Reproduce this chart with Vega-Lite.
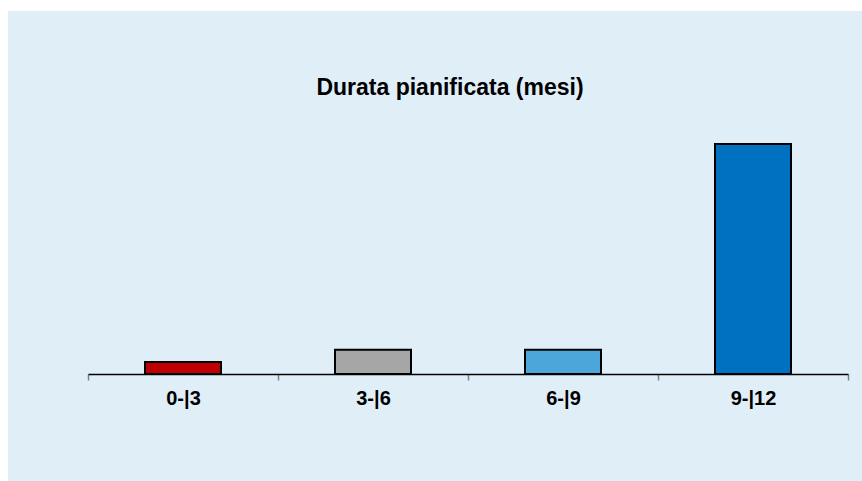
{
  "$schema": "https://vega.github.io/schema/vega-lite/v6.json",
  "autosize": {"type": "none"},
  "width": 854,
  "height": 470,
  "padding": {"left": 8, "top": 11, "right": 0, "bottom": 0},
  "background": "#ffffff",
  "config": {
    "view": {"fill": "#E0EEF8", "stroke": null},
    "font": "Liberation Sans"
  },
  "title": {
    "text": "Durata pianificata (mesi)",
    "font": "Liberation Sans",
    "fontSize": 23,
    "fontWeight": "bold",
    "color": "#000000",
    "anchor": "middle",
    "baseline": "alphabetic",
    "offset": -107,
    "dx": 15
  },
  "data": {
    "values": [
      {"durata": "0-|3", "progetti": 1, "colore": "#C00000"},
      {"durata": "3-|6", "progetti": 2, "colore": "#A6A6A6"},
      {"durata": "6-|9", "progetti": 2, "colore": "#4BA6DA"},
      {"durata": "9-|12", "progetti": 19, "colore": "#0070C0"}
    ]
  },
  "mark": {"type": "bar", "width": {"band": 0.4}, "stroke": "#000000", "strokeWidth": 2},
  "encoding": {
    "x": {
      "field": "durata",
      "type": "nominal",
      "sort": null,
      "scale": {"range": [80, 840], "paddingInner": 0, "paddingOuter": 0},
      "axis": {
        "title": null,
        "labelAngle": 0,
        "labelFont": "Liberation Sans",
        "labelFontSize": 20,
        "labelFontWeight": "bold",
        "labelColor": "#000000",
        "labelPadding": 8,
        "domainColor": "#000000",
        "domainWidth": 1.5,
        "tickColor": "#808080",
        "tickWidth": 1.5,
        "tickSize": 6,
        "tickBand": "extent",
        "offset": -107
      }
    },
    "y": {
      "field": "progetti",
      "type": "quantitative",
      "scale": {"domain": [0, 30], "range": [363, 0]},
      "axis": null
    },
    "color": {"field": "colore", "type": "nominal", "scale": null, "legend": null}
  }
}
